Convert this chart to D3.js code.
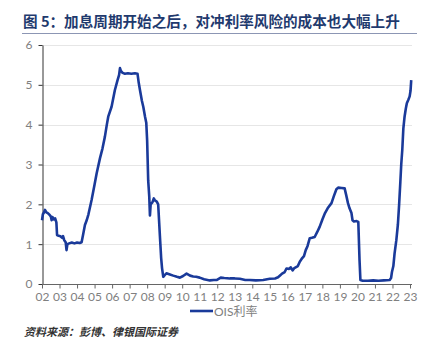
<!DOCTYPE html>
<html>
<head>
<meta charset="utf-8">
<script src="https://cdn.jsdelivr.net/npm/d3@7"></script>
<style>
  body { margin: 0; background: #fff; }
  svg { display: block; }
</style>
</head>
<body>
<div id="chart"></div>
<script>
// data (decimal year, OIS rate %)
var dates = [2002.00,2002.05,2002.12,2002.17,2002.25,2002.33,2002.42,2002.50,2002.55,2002.60,2002.67,2002.75,2002.82,2002.86,2002.95,
  2003.05,2003.15,2003.20,2003.27,2003.35,2003.40,2003.45,2003.55,2003.70,2003.85,2004.00,2004.15,2004.26,2004.35,2004.45,2004.55,
  2004.65,2004.83,2005.00,2005.12,2005.31,2005.45,2005.59,2005.70,2005.78,2005.97,2006.16,2006.30,2006.40,2006.45,2006.50,2006.60,
  2006.73,2006.90,2007.10,2007.30,2007.45,2007.52,2007.59,2007.70,2007.78,2007.88,2007.95,2008.00,2008.06,2008.12,2008.16,2008.20,
  2008.30,2008.38,2008.44,2008.55,2008.63,2008.73,2008.80,2008.85,2008.92,2009.00,2009.10,2009.30,2009.49,2009.70,2009.87,2010.05,
  2010.25,2010.45,2010.63,2010.80,2011.00,2011.25,2011.58,2011.80,2011.96,2012.20,2012.40,2012.72,2013.00,2013.29,2013.60,2013.86,
  2014.20,2014.62,2015.00,2015.30,2015.47,2015.60,2015.70,2015.85,2015.95,2016.10,2016.20,2016.30,2016.40,2016.60,2016.71,2016.85,
  2016.95,2017.05,2017.15,2017.28,2017.40,2017.56,2017.70,2017.85,2018.00,2018.15,2018.30,2018.52,2018.65,2018.80,2018.90,2019.10,
  2019.27,2019.35,2019.46,2019.55,2019.66,2019.72,2019.80,2019.95,2020.05,2020.12,2020.17,2020.30,2020.60,2020.90,2021.20,2021.50,
  2021.84,2021.92,2021.97,2022.05,2022.12,2022.22,2022.31,2022.38,2022.45,2022.50,2022.56,2022.62,2022.69,2022.76,2022.82,2022.90,
  2022.98,2023.03,2023.07];
var oisValues = [1.60,1.75,1.80,1.86,1.80,1.78,1.74,1.70,1.60,1.68,1.62,1.65,1.55,1.23,1.21,
  1.20,1.16,1.20,1.10,1.05,0.85,1.00,1.02,1.04,1.02,1.04,1.03,1.05,1.25,1.48,1.60,
  1.75,2.11,2.50,2.78,3.16,3.40,3.70,4.00,4.20,4.45,4.87,5.10,5.25,5.42,5.35,5.30,
  5.28,5.29,5.28,5.29,5.28,5.05,4.87,4.60,4.45,4.20,4.05,3.60,2.60,2.20,1.72,2.00,
  2.05,2.15,2.10,2.07,2.00,1.19,0.65,0.40,0.18,0.22,0.27,0.24,0.21,0.18,0.16,0.20,
  0.26,0.21,0.19,0.18,0.16,0.12,0.09,0.10,0.10,0.16,0.15,0.14,0.14,0.13,0.10,0.10,
  0.09,0.10,0.13,0.14,0.17,0.22,0.26,0.30,0.39,0.38,0.42,0.34,0.40,0.45,0.56,0.65,
  0.70,0.85,0.95,1.15,1.16,1.18,1.30,1.44,1.62,1.78,1.90,2.03,2.20,2.38,2.42,2.41,
  2.40,2.25,2.03,1.90,1.78,1.60,1.57,1.58,1.56,0.60,0.10,0.08,0.08,0.09,0.08,0.09,
  0.10,0.15,0.30,0.45,0.77,1.10,1.50,2.00,2.57,3.00,3.37,3.90,4.20,4.40,4.54,4.62,
  4.71,4.85,5.12];
var years = d3.range(2002, 2024);
var yearLabels = ["02","03","04","05","06","07","08","09","10","11","12","13","14","15","16","17","18","19","20","21","22","23"];
var yTicks = [0, 1, 2, 3, 4, 5, 6];

var title = "图 5：加息周期开始之后，对冲利率风险的成本也大幅上升";
var seriesName = "OIS利率";
var source = "资料来源：彭博、律银国际证券";

var svgWidth = 430, svgHeight = 338;
var margin = {top: 45, right: 18, bottom: 54, left: 42};
var width = svgWidth - margin.left - margin.right;
var height = svgHeight - margin.top - margin.bottom;

var font = "Lato, 'Noto Sans CJK SC', sans-serif";

var root = d3.select("#chart").append("svg")
  .attr("width", svgWidth)
  .attr("height", svgHeight);

// title + rule under it
root.append("text")
  .attr("x", 23).attr("y", 27)
  .attr("font-family", "'Noto Sans CJK SC', sans-serif")
  .attr("font-size", 14.6).attr("font-weight", "bold")
  .attr("fill", "#1f3a6e")
  .text(title);
root.append("line")
  .attr("x1", 22).attr("x2", 417).attr("y1", 33.5).attr("y2", 33.5)
  .attr("stroke", "#8c96b4").attr("stroke-width", 1);

var svg = root.append("g")
  .attr("transform", "translate(" + margin.left + "," + margin.top + ")");

var x = d3.scaleLinear().domain([2002, 2023]).range([0, 368]);
var y = d3.scaleLinear().domain([0, 6]).range([height, 0]);

// gridlines
svg.append("g").selectAll("line")
  .data(yTicks.slice(1))
  .join("line")
  .attr("x1", 0).attr("x2", width)
  .attr("y1", function(d) { return Math.round(y(d)) + 0.5; })
  .attr("y2", function(d) { return Math.round(y(d)) + 0.5; })
  .attr("stroke", "#e6e6e6");

// y axis
var yAxis = svg.append("g")
  .attr("transform", "translate(0.5,0)")
  .call(d3.axisLeft(y).tickValues(yTicks).tickFormat(d3.format("d"))
    .tickSize(4).tickSizeOuter(0).tickPadding(6));
yAxis.select(".domain").attr("stroke", "#333");
yAxis.selectAll(".tick line").attr("stroke", "#333");
yAxis.selectAll("text").attr("font-family", font).attr("font-size", 12).attr("fill", "#808080");

// x axis
var xAxis = svg.append("g")
  .attr("transform", "translate(0," + (height + 0.5) + ")")
  .call(d3.axisBottom(x).tickValues(years).tickSize(4).tickSizeOuter(0).tickPadding(4)
    .tickFormat(function(d, i) { return yearLabels[i]; }));
xAxis.select(".domain").attr("stroke", "#666").attr("d", "M0,0H" + width);
xAxis.selectAll(".tick line").attr("stroke", "#666");
xAxis.selectAll("text").attr("font-family", font).attr("font-size", 12).attr("fill", "#808080");

// series line
var line = d3.line()
  .x(function(d, i) { return x(dates[i]); })
  .y(function(d) { return y(d); });
svg.append("path")
  .datum(oisValues)
  .attr("d", line)
  .attr("fill", "none")
  .attr("stroke", "#1a3a9a")
  .attr("stroke-width", 2.6)
  .attr("stroke-linejoin", "round");

// legend
var lg = root.append("g").attr("transform", "translate(190,311)");
lg.append("line").attr("x1", 0).attr("x2", 23).attr("y1", 0).attr("y2", 0)
  .attr("stroke", "#1a3a9a").attr("stroke-width", 2.6);
lg.append("text").attr("x", 24).attr("y", 4.5)
  .attr("font-family", font).attr("font-size", 12).attr("fill", "#808080")
  .text(seriesName);

// source
root.append("text")
  .attr("x", 24).attr("y", 336)
  .attr("font-family", "'Noto Sans CJK SC', sans-serif")
  .attr("font-size", 11).attr("font-style", "italic").attr("font-weight", "bold")
  .attr("fill", "#333")
  .text(source);
</script>
</body>
</html>
